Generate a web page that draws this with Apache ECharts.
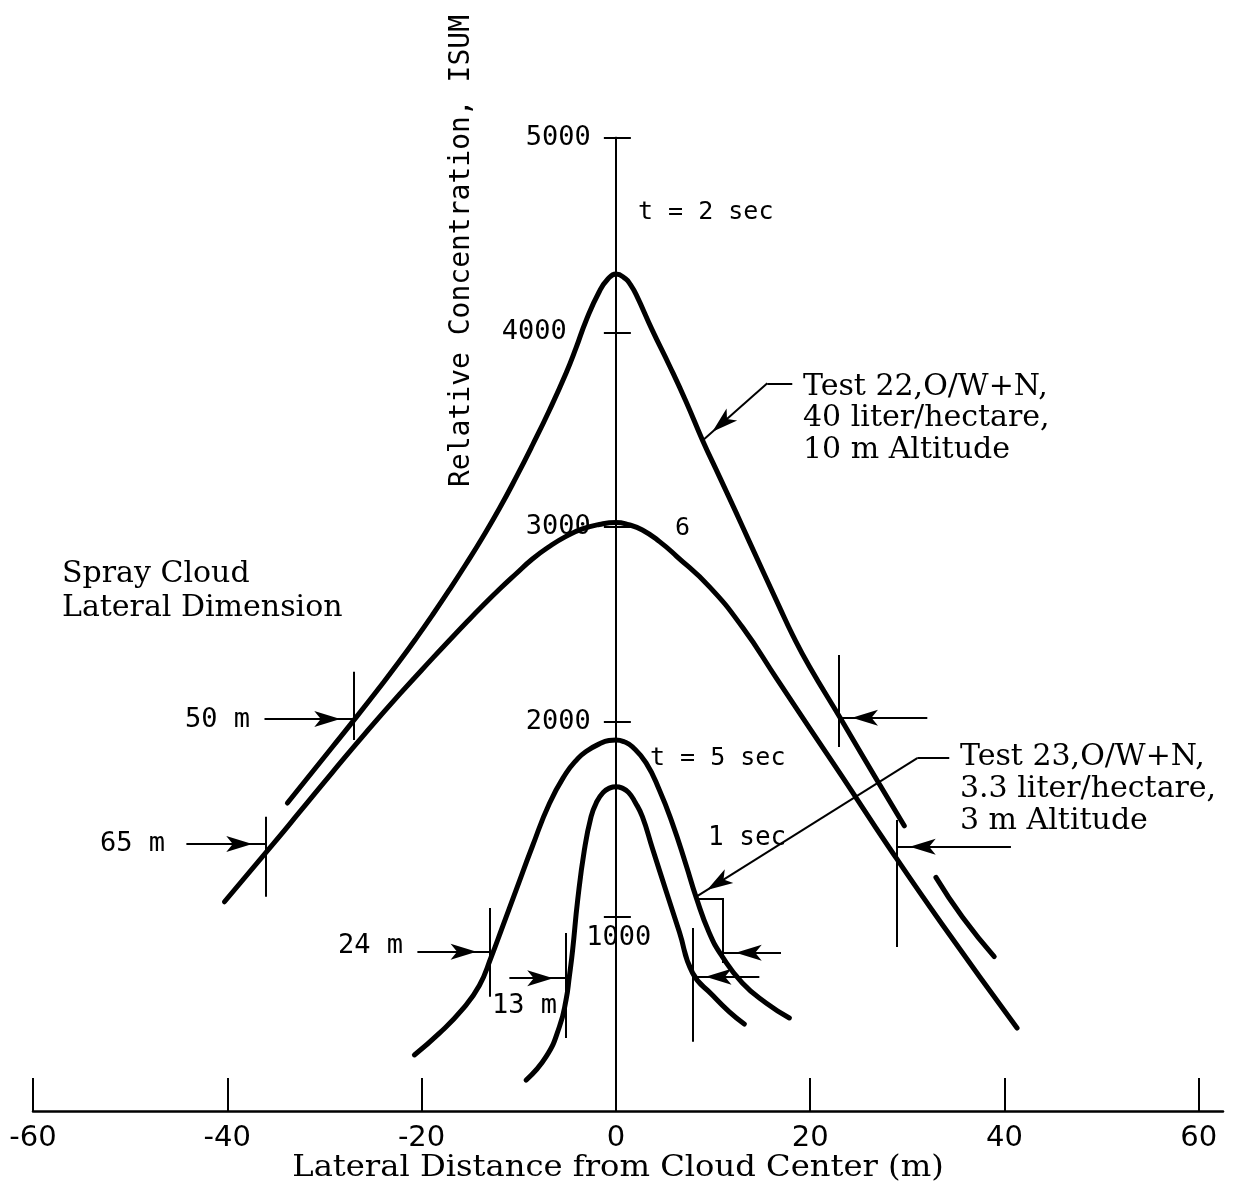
<!DOCTYPE html>
<html>
<head>
<meta charset="utf-8">
<title>Spray cloud lateral concentration profiles</title>
<script src="https://cdn.jsdelivr.net/npm/echarts@6/dist/echarts.min.js"></script>
<style>
  html, body { margin: 0; padding: 0; background: #fff; }
  #chart { width: 1255px; height: 1189px; }
</style>
</head>
<body>
<div id="chart"></div>
<script>
// Axis ticks
const xTicks = [-60, -40, -20, 0, 20, 40, 60];
const yTicks = [1000, 2000, 3000, 4000, 5000];

// Test 22 (O/W+N, 40 liter/hectare, 10 m altitude): [lateral distance m, ISUM]
const test22_t2 = [
  [-33.81, 1582], [-29.18, 1870], [-27.25, 1990], [-24.03, 2195], [-22.28, 2310],
  [-20.56, 2428], [-18.88, 2548], [-17.13, 2678], [-15.42, 2810], [-13.74, 2945],
  [-11.99, 3095], [-10.27, 3255], [-8.59, 3420], [-6.84, 3600], [-5.13, 3790],
  [-4.10, 3920], [-3.07, 4060], [-1.70, 4210], [-0.8, 4275], [0, 4300],
  [1.0, 4275], [1.5, 4245], [2.08, 4195], [3.76, 4010], [5.51, 3830], [7.22, 3645],
  [8.93, 3445], [10.65, 3260], [12.37, 3075], [13.74, 2925], [16.83, 2590],
  [18.2, 2445], [19.91, 2285], [23.21, 2010], [26.81, 1705], [29.69, 1465],
  [31.3, '-'],
  [32.95, 1200], [35.69, 995], [38.95, 793]
];
const test22_t6 = [
  [-40.29, 1075], [-34.97, 1390], [-32.57, 1535], [-29.18, 1740], [-25.71, 1945],
  [-22.28, 2140], [-18.88, 2325], [-17.13, 2418], [-15.42, 2508], [-13.74, 2594],
  [-11.99, 2680], [-10.27, 2760], [-8.59, 2836], [-6.84, 2900], [-5.13, 2952],
  [-3.45, 2990], [-1.70, 3013], [0, 3023], [1.3, 3012], [2.73, 2985], [4.5, 2925],
  [6.23, 2851], [9.62, 2694], [13.02, 2486], [16.52, 2224], [19.91, 1970], [23.3, 1718],
  [28.04, 1360], [33.6, 958], [41.3, 426]
];

// Test 23 (O/W+N, 3.3 liter/hectare, 3 m altitude)
const test23_t5 = [
  [-20.74, 288], [-18.16, 400], [-15.8, 522], [-14.05, 645], [-12.84, 790],
  [-11.68, 945], [-10.27, 1135], [-8.59, 1360], [-6.84, 1580], [-5.13, 1735],
  [-4.1, 1800], [-3.07, 1847], [-1.39, 1893], [-0.7, 1903], [0, 1906], [0.85, 1897],
  [1.70, 1871], [3.11, 1788], [4.48, 1649], [5.81, 1479], [7.22, 1265], [8.25, 1100],
  [9.62, 915], [10.96, 793], [13.02, 658], [15.46, 555], [17.86, 478]
];
const test23_t1 = [
  [-9.24, 159], [-7.18, 279], [-5.81, 433], [-5.13, 570], [-4.79, 690],
  [-4.45, 827], [-3.93, 1084], [-3.24, 1341], [-2.55, 1512], [-2.0, 1585],
  [-1.3, 1637], [-0.6, 1660], [0, 1666], [0.6, 1660], [1.3, 1637], [2.0, 1585],
  [2.73, 1512], [3.76, 1350], [5.17, 1130], [6.54, 920], [7.90, 709],
  [9.93, 596], [11.68, 509], [13.22, 447]
];

// Spray cloud lateral dimension brackets
const dimWidth = [50, 65, 24, 13];                 // m
const dimCentre = [-2.03, -3.59, -1.0, 1.39];      // m
const dimLeftSpan = [[1906, 2257], [1101, 1512], [587, 1043], [375, 914]];
const dimRightSpan = [[1870, 2342], [842, 1495], [760, 1094], [356, 940]];
const dimLeftArrow = [[-36.17, 2014], [-44.21, 1372], [-20.43, 818], [-10.96, 682]];   // tail x, level
const dimRightArrow = [[32.06, 2020], [40.67, 1358], [17.0, 813], [14.77, 690]];

// Callout leaders: polyline ending in an arrow on the curve
const test22Leader = [[18.16, 3738], [15.59, 3738], [8.93, 3445]];
const test23Leader = [[34.32, 1813], [31.03, 1813], [8.25, 1100]];
const bracketJoin = [[8.39, 1089], [11.0, 1089]];

const SANS = '"DejaVu Sans Mono", monospace';
const SERIF = '"DejaVu Serif", serif';
const ARROW = { symbol: 'arrow', symbolSize: [12, 26], symbolOffset: [0, 13] };

// grid geometry: x = -60 at 33 px, x = 62.5 at 1223 px
const GRID = { left: 33, right: 32, top: 137.7, bottom: 78 };
const plotW = 1255 - GRID.left - GRID.right;
const yAxisShift = -plotW * (0 - (-60)) / (62.5 - (-60)); // move the value axis onto x = 0

function segment(a, b, arrow) {
  const end = Object.assign({ coord: b }, arrow ? ARROW : { symbol: 'none' });
  return [{ coord: a, symbol: 'none' }, end];
}
function polyline(points, arrow) {
  const out = [];
  for (let i = 1; i < points.length; i++) {
    out.push(segment(points[i - 1], points[i], arrow && i === points.length - 1));
  }
  return out;
}

const annotationLines = [];
dimWidth.forEach((w, i) => {
  const xl = dimCentre[i] - w / 2;
  const xr = dimCentre[i] + w / 2;
  annotationLines.push(segment([xl, dimLeftSpan[i][0]], [xl, dimLeftSpan[i][1]], false));
  annotationLines.push(segment([xr, dimRightSpan[i][0]], [xr, dimRightSpan[i][1]], false));
  annotationLines.push(segment([dimLeftArrow[i][0], dimLeftArrow[i][1]], [xl, dimLeftArrow[i][1]], true));
  annotationLines.push(segment([dimRightArrow[i][0], dimRightArrow[i][1]], [xr, dimRightArrow[i][1]], true));
});
annotationLines.push(...polyline(test22Leader, true));
annotationLines.push(...polyline(test23Leader, true));
annotationLines.push(...polyline(bracketJoin, false));

function curve(name, data) {
  return {
    type: 'line', name, data,
    showSymbol: false, smooth: 0.5,
    connectNulls: false, silent: true,
    lineStyle: { color: '#000', width: 5, cap: 'round', join: 'round' },
    z: 3
  };
}

function label(text, x, y, font, extra, props) {
  return Object.assign({
    type: 'text', x, y, silent: true,
    style: Object.assign({
      text, fill: '#000', font,
      align: 'left', verticalAlign: 'middle'
    }, extra || {})
  }, props || {});
}

const chart = echarts.init(document.getElementById('chart'), null, { renderer: 'canvas' });

chart.setOption({
  backgroundColor: '#fff',
  animation: false,
  grid: Object.assign({ containLabel: false, outerBoundsMode: 'none' }, GRID),
  xAxis: {
    type: 'value', min: -60, max: 62.5, interval: 20,
    axisLine: { show: true, onZero: true, lineStyle: { color: '#000', width: 2.5 } },
    axisTick: { show: true, inside: true, length: 33, customValues: xTicks, lineStyle: { color: '#000', width: 2 } },
    axisLabel: {
      customValues: xTicks, margin: 13, color: '#000',
      fontFamily: '"DejaVu Sans", sans-serif', fontSize: 29
    },
    splitLine: { show: false }
  },
  yAxis: [
    {
      type: 'value', min: 0, max: 5000, interval: 1000, position: 'left', offset: yAxisShift,
      axisLine: { show: true, onZero: false, lineStyle: { color: '#000', width: 2 } },
      axisTick: { show: true, inside: false, length: 12, customValues: yTicks, lineStyle: { color: '#000', width: 2 } },
      axisLabel: {
        customValues: yTicks.filter(v => v !== 1000), margin: 25, color: '#000',
        fontFamily: SANS, fontSize: 27,
        formatter: v => (v === 4000 ? '{far|' + v + '}' : String(v)),
        rich: { far: { fontFamily: SANS, fontSize: 27, color: '#000', padding: [0, 24, 0, 0] } }
      },
      splitLine: { show: false }
    },
    {
      type: 'value', min: 0, max: 5000, interval: 1000, position: 'left', offset: yAxisShift,
      axisLine: { show: true, onZero: false, lineStyle: { color: '#000', width: 2 } },
      axisTick: { show: true, inside: true, length: 15, customValues: yTicks, lineStyle: { color: '#000', width: 2 } },
      axisLabel: {
        customValues: [1000], inside: true, margin: 3, align: 'center', verticalAlign: 'top',
        padding: [8, 0, 0, 0], color: '#000', fontFamily: SANS, fontSize: 27,
        formatter: v => String(v)
      },
      splitLine: { show: false }
    }
  ],
  series: [
    curve('Test 22, t = 2 sec', test22_t2),
    curve('Test 22, t = 6 sec', test22_t6),
    curve('Test 23, t = 5 sec', test23_t5),
    curve('Test 23, t = 1 sec', test23_t1),
    {
      type: 'line', name: 'annotations', data: [], silent: true,
      markLine: {
        silent: true, animation: false,
        symbol: ['none', 'none'],
        label: { show: false },
        emphasis: { disabled: true },
        lineStyle: { color: '#000', width: 2, type: 'solid' },
        data: annotationLines
      }
    }
  ],
  graphic: [
    label('Relative Concentration, ISUM', 462, 251, '28px ' + SANS, { align: 'center' }, { rotation: Math.PI / 2 }),
    label('t = 2 sec', 638, 212, '25px ' + SANS),
    label('6', 675, 528, '25px ' + SANS),
    label('t = 5 sec', 650, 758, '25px ' + SANS),
    label('1 sec', 708, 838, '26px ' + SANS),
    label(dimWidth[0] + ' m', 185, 720, '27px ' + SANS),
    label(dimWidth[1] + ' m', 100, 844, '27px ' + SANS),
    label(dimWidth[2] + ' m', 338, 946, '27px ' + SANS),
    label(dimWidth[3] + ' m', 492, 1006, '27px ' + SANS),
    label('Spray Cloud\nLateral Dimension', 62, 557.5, '30px ' + SERIF, { verticalAlign: 'top', lineHeight: 34 }),
    label('Test 22,O/W+N,\n40 liter/hectare,\n10 m Altitude', 803, 371, '30px ' + SERIF, { verticalAlign: 'top', lineHeight: 31.5 }),
    label('Test 23,O/W+N,\n3.3 liter/hectare,\n3 m Altitude', 960, 741, '30px ' + SERIF, { verticalAlign: 'top', lineHeight: 32 }),
    label('Lateral Distance from Cloud Center (m)', 618, 1168, '29px ' + SERIF, { align: 'center' }, { scaleX: 1.11 })
  ]
});
</script>
</body>
</html>
